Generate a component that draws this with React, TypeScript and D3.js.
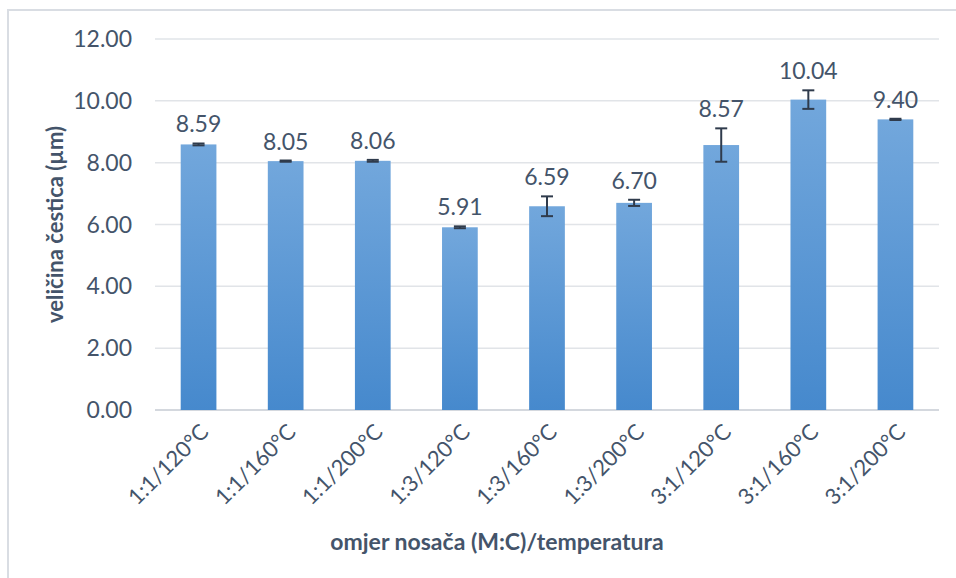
import React from 'react';
import * as d3 from 'd3';

const categories = ['1:1/120°C', '1:1/160°C', '1:1/200°C', '1:3/120°C', '1:3/160°C', '1:3/200°C', '3:1/120°C', '3:1/160°C', '3:1/200°C'];
const values = [8.59, 8.05, 8.06, 5.91, 6.59, 6.7, 8.57, 10.04, 9.4];
const errors = [0.03, 0.02, 0.03, 0.03, 0.32, 0.1, 0.54, 0.3, 0.02];
const yTicks = [0, 2, 4, 6, 8, 10, 12];

const W = 956;
const H = 578;
const textColor = '#44546a';
const font = 'Lato, "Open Sans", sans-serif';

export default function App() {
    const margin = { left: 155, right: 17, top: 39, bottom: 168 };
    const x = d3.scaleBand<string>()
        .domain(categories)
        .range([margin.left, W - margin.right])
        .paddingInner(0.59)
        .paddingOuter(0.295);
    const y = d3.scaleLinear().domain([0, 12]).range([H - margin.bottom, margin.top]);

    return (
        <svg width={W} height={H} style={{ position: 'absolute', left: 0, top: 0, background: '#fff' }}>
            <defs>
                <linearGradient id="barGrad" x1="0" y1="0" x2="0" y2="1">
                    <stop offset="0%" stopColor="#72a7dc" />
                    <stop offset="100%" stopColor="#4689cd" />
                </linearGradient>
            </defs>
            <path d={`M8,${H} V10 H${W}`} fill="none" stroke="#d9dde3" strokeWidth={2} />

            {yTicks.map(t => (
                <g key={t}>
                    <line x1={margin.left} x2={W - margin.right} y1={y(t)} y2={y(t)}
                        stroke={t === 0 ? '#d4d8de' : '#e1e4e8'} strokeWidth={t === 0 ? 2 : 1.5} />
                    <text x={132} y={y(t)} dy="0.35em" textAnchor="end" fill={textColor}
                        fontFamily={font} fontSize={23}>{t.toFixed(2)}</text>
                </g>
            ))}

            {categories.map((c, i) => {
                const bx = x(c)!;
                const cx = bx + x.bandwidth() / 2;
                const v = values[i];
                const e = errors[i];
                return (
                    <g key={c}>
                        <rect x={bx} y={y(v)} width={x.bandwidth()} height={y(0) - y(v)} fill="url(#barGrad)" />
                        <g stroke="#2f3b4c" strokeWidth={2}>
                            <line x1={cx} x2={cx} y1={y(v + e)} y2={y(v - e)} />
                            <line x1={cx - 6} x2={cx + 6} y1={y(v + e)} y2={y(v + e)} />
                            <line x1={cx - 6} x2={cx + 6} y1={y(v - e)} y2={y(v - e)} />
                        </g>
                        <text x={cx} y={y(v + e) - 11} textAnchor="middle" fill={textColor}
                            fontFamily={font} fontSize={23}>{v.toFixed(2)}</text>
                        <text transform={`translate(${cx + 6},${y(0) + 18}) rotate(-45)`} textAnchor="end"
                            dy="0.35em" fill={textColor} fontFamily={font} fontSize={22}>{c}</text>
                    </g>
                );
            })}

            <text x={497} y={550} textAnchor="middle" fill={textColor}
                fontFamily={font} fontSize={23} fontWeight="bold">omjer nosača (M:C)/temperatura</text>
            <text transform={`translate(63,${(y(0) + y(12)) / 2}) rotate(-90)`} textAnchor="middle" fill={textColor}
                fontFamily={font} fontSize={22} fontWeight="bold">veličina čestica (µm)</text>
        </svg>
    );
}
